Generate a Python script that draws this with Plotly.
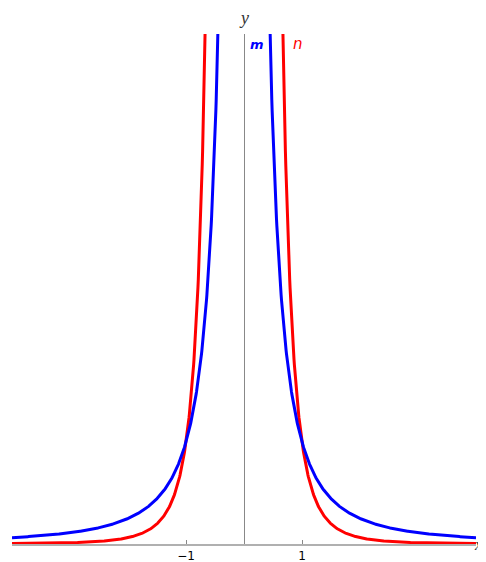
import numpy as np
import plotly.graph_objects as go

# Curve definitions: y = 1 / x**p
series_names = ["m", "n"]
series_powers = [2, 4]
series_colors = ["rgb(0,0,255)", "rgb(255,0,0)"]

x_range = [-4, 4]
y_range = [0, 5]
tick_vals = [-1, 1]
tick_text = ["\u22121", "1"]

xs_right = np.linspace(0.3, 4.0, 600)

fig = go.Figure()
for name, p, c in zip(series_names[::-1], series_powers[::-1], series_colors[::-1]):
    for sign in (-1, 1):
        xx = sign * xs_right
        yy = 1.0 / np.abs(xx) ** p
        fig.add_trace(go.Scatter(x=xx, y=yy, mode="lines", name=name,
                                 line=dict(color=c, width=3), showlegend=False,
                                 hoverinfo="skip"))

fig.update_layout(
    width=486, height=562,
    margin=dict(l=4, r=18, t=26, b=26),
    paper_bgcolor="white", plot_bgcolor="white",
    xaxis=dict(range=x_range, showgrid=False, zeroline=True, zerolinecolor="#888888",
               zerolinewidth=1, showline=True, linecolor="#b0b0b0", linewidth=2,
               ticks="inside", ticklen=4, tickcolor="#888888",
               tickvals=tick_vals, ticktext=tick_text, ticklabelstandoff=0,
               tickfont=dict(family="DejaVu Sans", size=12, color="black")),
    yaxis=dict(range=y_range, showgrid=False, zeroline=False, showticklabels=False,
               ticks=""),
    annotations=[
        dict(x=0, y=1, xref="x", yref="paper", yanchor="bottom", yshift=4, text="<i>y</i>",
             showarrow=False, font=dict(family="Liberation Serif", size=18, color="#333333")),
        dict(x=0.22, y=5, xref="x", yref="y", yshift=-10, text="<i><b>m</b></i>", showarrow=False,
             font=dict(family="DejaVu Sans", size=13, color="rgb(0,0,255)")),
        dict(x=0.93, y=5, xref="x", yref="y", yshift=-10, text="<i>n</i>", showarrow=False,
             font=dict(family="DejaVu Sans", size=15, color="rgb(255,0,0)")),
        dict(x=1, y=0, xref="paper", yref="y", xshift=8, text="<i>x</i>", showarrow=False,
             font=dict(family="Liberation Serif", size=16, color="#333333")),
    ],
)

fig.write_html("out.html")
